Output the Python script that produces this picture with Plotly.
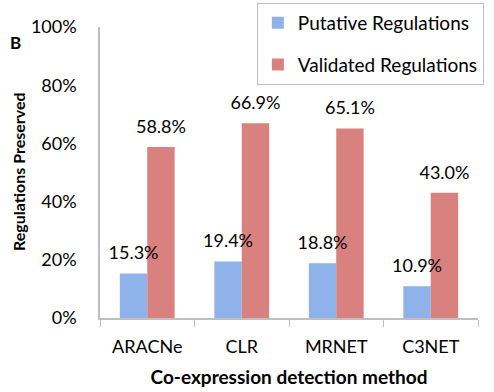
import plotly.graph_objects as go

categories = ["ARACNe", "CLR", "MRNET", "C3NET"]
putative = [15.3, 19.4, 18.8, 10.9]
validated = [58.8, 66.9, 65.1, 43.0]
tick_vals = [0, 20, 40, 60, 80, 100]
tick_text = ["0%", "20%", "40%", "60%", "80%", "100%"]

FONT = "Lato, 'Open Sans', sans-serif"

fig = go.Figure()
series = [
    ("Putative Regulations", putative, "#90b2ea", "a"),
    ("Validated Regulations", validated, "#d8817e", "b"),
]
for name, vals, color, grp in series:
    fig.add_trace(go.Bar(
        x=categories, y=vals, name=name,
        marker=dict(color=color, line=dict(width=0)),
        offsetgroup=grp, legendgroup=grp,
    ))
for name, vals, color, grp in series:
    fig.add_trace(go.Scatter(
        x=categories, y=vals, mode="markers+text",
        marker=dict(size=14, opacity=0),
        text=[f"{v:.1f}%" for v in vals], textposition="top center",
        textfont=dict(size=18, color="black", family=FONT),
        offsetgroup=grp, showlegend=False, cliponaxis=False, hoverinfo="skip",
    ))

fig.update_layout(
    width=494, height=392,
    margin=dict(l=100, r=16, t=27, b=74, autoexpand=False),
    paper_bgcolor="white", plot_bgcolor="white",
    barmode="group", scattermode="group", bargap=0.42, bargroupgap=0,
    font=dict(family=FONT, size=18, color="black"),
    showlegend=True,
    legend=dict(
        x=0.415, y=1.0825, xanchor="left", yanchor="top",
        bordercolor="#bfbfbf", borderwidth=1, bgcolor="white",
        font=dict(size=19, family=FONT), tracegroupgap=14,
        itemwidth=30,
    ),
    xaxis=dict(
        showline=True, linecolor="#bfbfbf", linewidth=1.5,
        ticks="outside", tickson="boundaries", ticklen=7, tickcolor="#bfbfbf",
        tickfont=dict(size=18), showgrid=False, ticklabelstandoff=12,
        title=dict(text="<b>Co-expression detection method</b>", font=dict(size=19), standoff=14),
    ),
    yaxis=dict(
        range=[0, 100], tickvals=tick_vals, ticktext=tick_text,
        showline=True, linecolor="#bfbfbf", linewidth=1.5,
        ticks="", showgrid=False, zeroline=False,
        tickfont=dict(size=18), ticklabelstandoff=18,
    ),
)
pw, ph = 494 - 100 - 16, 392 - 27 - 74
fig.add_annotation(text="<b>Regulations Preserved</b>", textangle=-90,
                   x=(18 - 100) / pw, y=(318 - 172) / ph, xref="paper", yref="paper",
                   xanchor="center", yanchor="middle", showarrow=False, font=dict(size=16))
fig.add_annotation(text="<b>B</b>", x=(15 - 100) / pw, y=(318 - 42) / ph, xref="paper", yref="paper",
                   xanchor="center", yanchor="middle", showarrow=False, font=dict(size=17))

fig.write_html("out.html", config={"displayModeBar": False},
               post_script="document.body.style.margin='0px';")
